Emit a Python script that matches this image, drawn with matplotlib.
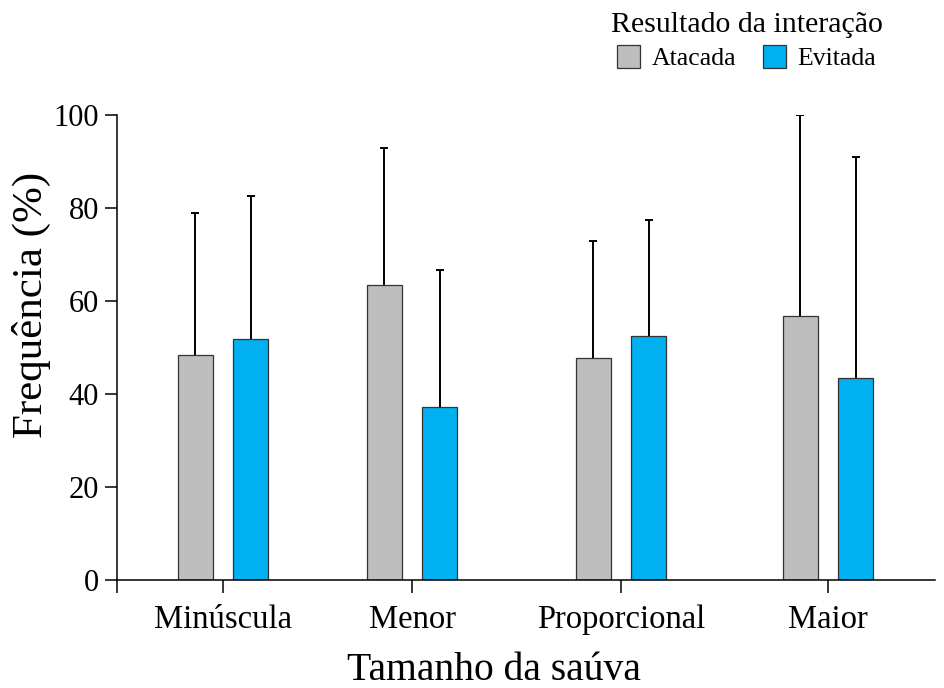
import numpy as np
import matplotlib
matplotlib.use("Agg")
import matplotlib.pyplot as plt
from matplotlib.patches import Patch

plt.rcParams['font.family'] = ['Liberation Serif', 'DejaVu Serif']

# Data (frequency %, upper error bar tops)
categories = ["Minúscula", "Menor", "Proporcional", "Maior"]
atacada = [48.4, 63.5, 47.7, 56.7]
evitada = [51.8, 37.1, 52.4, 43.5]
atacada_err_top = [79.0, 93.0, 72.9, 100.0]
evitada_err_top = [82.6, 66.6, 77.4, 90.9]

# layout (group centres in axis units)
group_x = np.array([0.526, 1.463, 2.499, 3.525])
bar_w = 0.174
offset = 0.138

fig = plt.figure(figsize=(9.45, 6.88), dpi=100)
ax = fig.add_axes([0.1238, 0.157, 0.9894 - 0.1238, 0.6758])

grey = "#BEBEBE"
blue = "#00B0F0"
edge = "#333333"

ata = np.array(atacada)
evi = np.array(evitada)
ata_err = np.array(atacada_err_top) - ata
evi_err = np.array(evitada_err_top) - evi

ax.bar(group_x - offset, ata, bar_w, color=grey, edgecolor=edge, linewidth=0.9, zorder=2)
ax.bar(group_x + offset, evi, bar_w, color=blue, edgecolor=edge, linewidth=0.9, zorder=2)
for xs, ys, err in [(group_x - offset, ata, ata_err), (group_x + offset, evi, evi_err)]:
    eb = ax.errorbar(xs, ys, yerr=[np.zeros(4), err], fmt="none",
                     ecolor="black", elinewidth=1.4, capsize=3, capthick=1.4, zorder=1)
    # only the upper cap is drawn in the original
    eb[1][0].set_visible(False)

ax.set_xlim(0, 4.056)
ax.set_ylim(0, 100)
ax.set_yticks([0, 20, 40, 60, 80, 100])
ax.set_xticks([0] + list(group_x))
ax.set_xticklabels([""] + categories)

for s in ["top", "right"]:
    ax.spines[s].set_visible(False)
for s in ["left", "bottom"]:
    ax.spines[s].set_linewidth(1.1)

ax.tick_params(axis="y", direction="out", length=9, width=1.1, labelsize=22, pad=4)
ax.tick_params(axis="x", direction="out", length=9, width=1.1, labelsize=23.5, pad=9)

ax.set_ylabel("Frequência (%)", fontsize=31, labelpad=2, y=0.591)
ax.set_xlabel("Tamanho da saúva", fontsize=28.5, labelpad=12, x=0.461)

handles = [Patch(facecolor=grey, edgecolor=edge, linewidth=0.9),
           Patch(facecolor=blue, edgecolor=edge, linewidth=0.9)]
leg = fig.legend(handles, ["Atacada", "Evitada"], title="Resultado da interação",
                 ncol=2, frameon=False, loc="upper center",
                 bbox_to_anchor=(0.790, 1.008), fontsize=18.5, title_fontsize=21.5,
                 handlelength=0.9, handleheight=0.95, handletextpad=0.45,
                 columnspacing=1.05, borderpad=0.2, labelspacing=0.2)
leg._legend_box.sep = 5

fig.savefig("out.png", dpi=100)
